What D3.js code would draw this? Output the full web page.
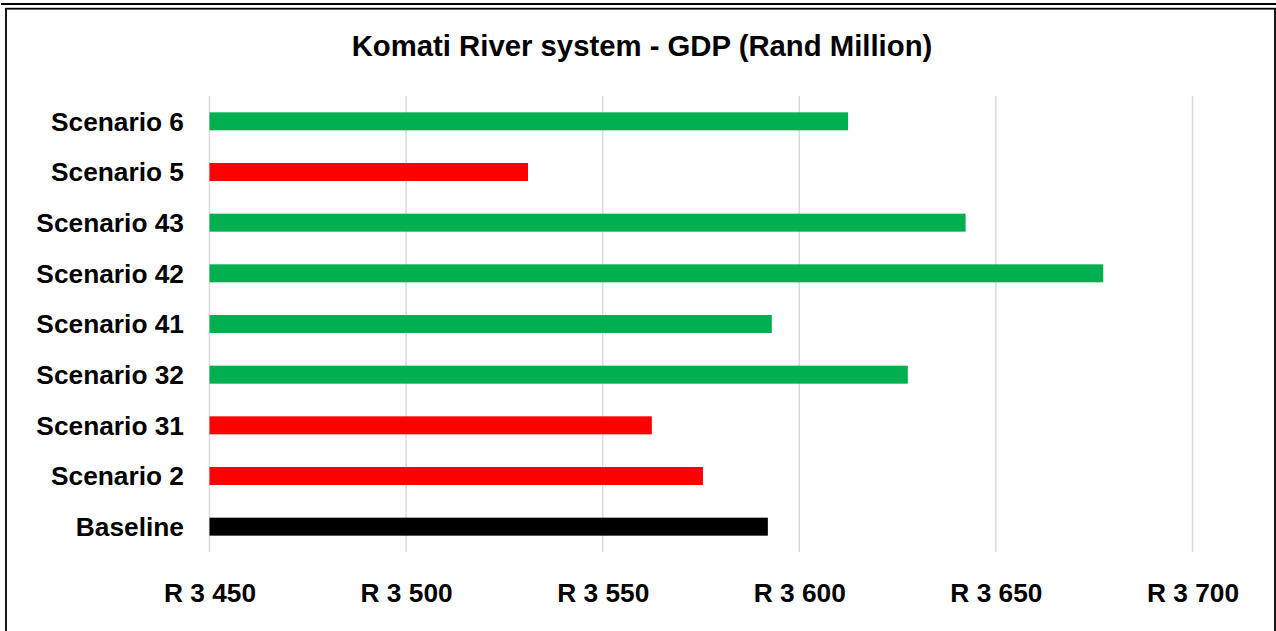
<!DOCTYPE html>
<html>
<head>
<meta charset="utf-8">
<script src="https://cdn.jsdelivr.net/npm/d3@7"></script>
<style>
  body { margin: 0; background: #fff; }
  text { font-family: "Liberation Sans", Arial, sans-serif; font-weight: bold; fill: #000; }
</style>
</head>
<body>
<script>
// данные графика
categories = ['Scenario 6', 'Scenario 5', 'Scenario 43', 'Scenario 42', 'Scenario 41',
              'Scenario 32', 'Scenario 31', 'Scenario 2', 'Baseline'];
gdpValues = [3612.4, 3531, 3642.3, 3677.3, 3593, 3627.6, 3562.5, 3575.5, 3592];
barColors = ['#00B050', '#FF0000', '#00B050', '#00B050', '#00B050',
             '#00B050', '#FF0000', '#FF0000', '#000000'];
tickValues = [3450, 3500, 3550, 3600, 3650, 3700];
chartTitle = 'Komati River system - GDP (Rand Million)';

width = 1276;
height = 631;

svg = d3.select('body').append('svg')
   .attr('width', width)
   .attr('height', height);

// рамка
svg.append('line')
   .attr('x1', 1).attr('x2', width)
   .attr('y1', 4).attr('y2', 4)
   .attr('stroke', '#000').attr('stroke-width', 2.2);
svg.append('rect')
   .attr('x', 6).attr('y', 8.7)
   .attr('width', 1269).attr('height', 700)
   .attr('fill', 'none')
   .attr('stroke', '#000').attr('stroke-width', 1.8);

// шкалы
x = d3.scaleLinear()
   .domain([3450, 3700])
   .range([209.5, 1192.5]);
y = d3.scaleBand()
   .domain(categories)
   .range([96, 552])
   .paddingInner(0.645)
   .paddingOuter(0.3225);

// сетка
svg.append('g')
   .selectAll('line')
   .data(tickValues)
.enter().append('line')
   .attr('x1', (d) => x(d)).attr('x2', (d) => x(d))
   .attr('y1', 96).attr('y2', 552)
   .attr('stroke', '#d9d9d9')
   .attr('stroke-width', 1.5);

// столбцы
svg.append('g')
   .selectAll('rect')
   .data(gdpValues)
.enter().append('rect')
   .attr('x', x(3450))
   .attr('y', (d, i) => y(categories[i]))
   .attr('width', (d) => x(d) - x(3450))
   .attr('height', y.bandwidth())
   .attr('fill', (d, i) => barColors[i]);

// подписи категорий
yAxis = svg.append('g')
   .attr('transform', 'translate(184, 0)')
   .call(d3.axisLeft(y).tickSize(0).tickPadding(0));
yAxis.select('.domain').remove();
yAxis.selectAll('text')
   .attr('font-size', 26.3)
   .attr('font-family', null)
   .attr('dy', '0.35em');

// подписи оси X
xAxis = svg.append('g')
   .attr('transform', 'translate(0, 583)')
   .call(d3.axisBottom(x).tickValues(tickValues).tickSize(0).tickPadding(0)
      .tickFormat((d) => 'R ' + d3.format(',')(d).replace(',', ' ')));
xAxis.select('.domain').remove();
xAxis.selectAll('text')
   .attr('font-size', 26.3)
   .attr('font-family', null)
   .attr('dy', '0.71em');

// заголовок
svg.append('text')
   .attr('x', 642)
   .attr('y', 56)
   .attr('text-anchor', 'middle')
   .attr('font-size', 29.3)
   .text(chartTitle);
</script>
</body>
</html>
